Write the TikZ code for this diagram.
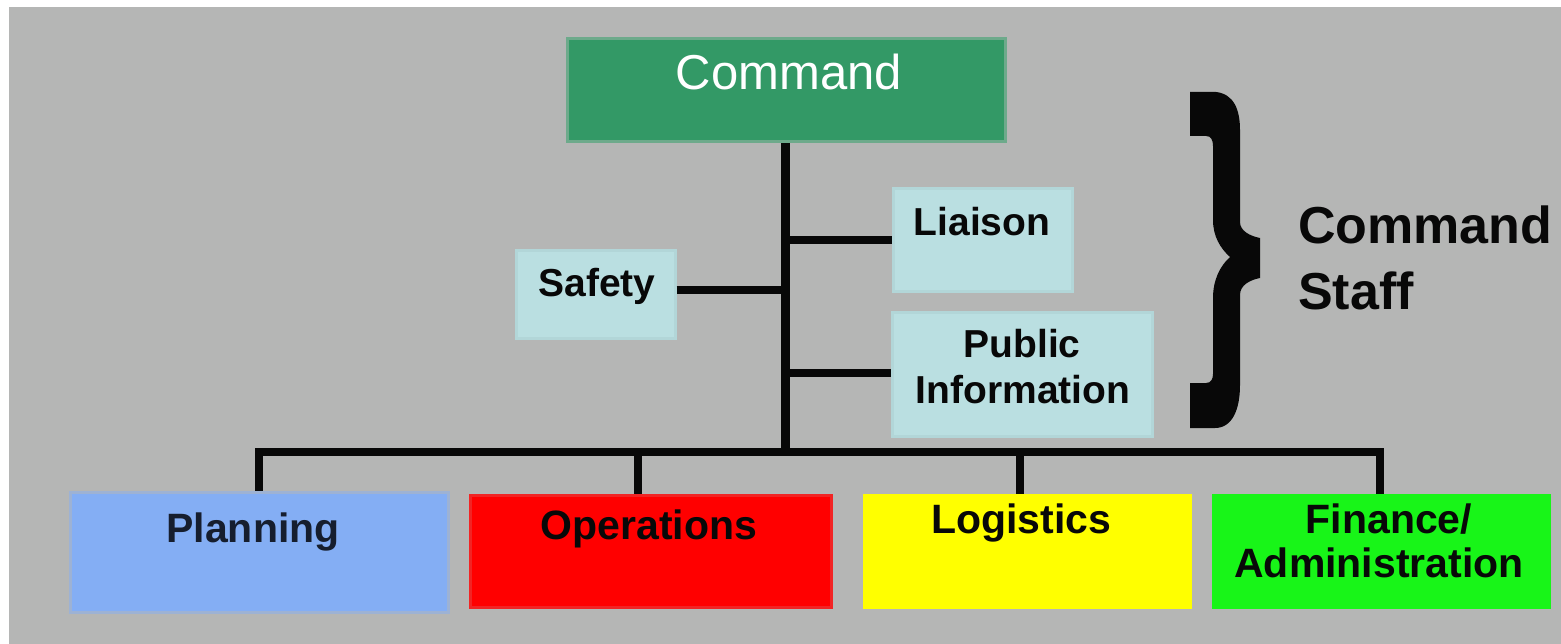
\documentclass[tikz,border=0pt]{standalone}
\usepackage{fontspec}
\setmainfont{Liberation Sans}
\usetikzlibrary{fit}
\definecolor{bg}{HTML}{B5B6B5}
\definecolor{cmdfill}{HTML}{339966}
\definecolor{cmdline}{HTML}{6DAA8B}
\definecolor{stafffill}{HTML}{BADFE1}
\definecolor{staffline}{HTML}{B2D6D8}
\definecolor{planfill}{HTML}{84AEF4}
\definecolor{planline}{HTML}{9DB2D4}
\definecolor{planink}{HTML}{161E2E}
\definecolor{opsfill}{HTML}{FF0000}
\definecolor{opsline}{HTML}{F22424}
\definecolor{logfill}{HTML}{FFFF00}
\definecolor{finfill}{HTML}{18F518}
\definecolor{ink}{HTML}{080808}
\begin{document}
\begin{tikzpicture}[x=1pt,y=-1pt,
  box/.style={inner sep=0pt, line width=3pt},
  conn/.style={draw=ink, line width=8.5pt},
  stafftxt/.style={inner sep=0pt, text=ink, font=\fontsize{39}{40}\selectfont\bfseries},
  sectxt/.style={inner sep=0pt, text=ink, font=\fontsize{41}{42}\selectfont\bfseries},
  bigtxt/.style={inner sep=0pt, text=ink, font=\fontsize{52}{53}\selectfont\bfseries}]
\useasboundingbox (0,0) rectangle (1561,644);
\fill[white] (0,0) rectangle (1561,644);
\fill[bg] (9,7) rectangle (1561,644);

% boxes
\node[box, fill=cmdfill, draw=cmdline, fit={(567,39) (1005,142)}] (command) {};
\node[box, fill=stafffill, draw=staffline, fit={(893,189) (1072,292)}] (liaison) {};
\node[box, fill=stafffill, draw=staffline, fit={(516,251) (675,339)}] (safety) {};
\node[box, fill=stafffill, draw=staffline, fit={(892,313) (1152,436)}] (public) {};
\node[box, fill=planfill, draw=planline, fit={(70,492) (448,612)}] (planning) {};
\node[box, fill=opsfill, draw=opsline, fit={(470,495) (831,607)}] (operations) {};
\node[box, fill=logfill, draw=logfill, fit={(864,495) (1190,607)}] (logistics) {};
\node[box, fill=finfill, draw=finfill, fit={(1213,495) (1549,607)}] (finance) {};

% texts
\node[inner sep=0pt, text=white, font=\fontsize{49}{50}\selectfont, anchor=base] (tcommand) at (789,90) {Command};
\node[stafftxt, anchor=base] (tliaison) at (982,236) {Liaison};
\node[stafftxt, anchor=base] (tsafety) at (597,297) {Safety};
\node[stafftxt, anchor=base] (tpublic) at (1022,357) {Public};
\node[stafftxt, anchor=base] (tinfo) at (1023,403) {Information};
\node[sectxt, anchor=base, text=planink] (tplanning) at (253,542) {Planning};
\node[sectxt, anchor=base] (toperations) at (649,539) {Operations};
\node[sectxt, anchor=base] (tlogistics) at (1021,533) {Logistics};
\node[sectxt, anchor=base] (tfinance) at (1389,533) {Finance/};
\node[sectxt, anchor=base] (tadmin) at (1379,577) {Administration};
\node[bigtxt, anchor=base west] (tcmd2) at (1298,244) {Command};
\node[bigtxt, anchor=base west] (tstaff) at (1298,309) {Staff};

% junction coordinates
\coordinate (jliaison) at (785.5,240);
\coordinate (jsafety) at (785.5,290);
\coordinate (jpublic) at (785.5,373);
\coordinate (jbus) at (785.5,452);
\coordinate (bplan) at (259,452);
\coordinate (bops) at (638,452);
\coordinate (blog) at (1020,452);
\coordinate (bfin) at (1380,452);

% connectors
\draw[conn] (command.south -| jbus) -- (jbus);
\draw[conn] (jliaison) -- (liaison.west |- jliaison);
\draw[conn] (safety.east |- jsafety) -- (jsafety);
\draw[conn] (jpublic) -- (public.west |- jpublic);
\draw[conn] (planning.north -| bplan) -- (bplan) -- (bfin) -- (finance.north -| bfin);
\draw[conn] (bops) -- (operations.north -| bops);
\draw[conn] (blog) -- (logistics.north -| blog);

% brace
\fill[ink] (1190,92) -- (1216,92) .. controls (1234,94) and (1240,110) .. (1240,130)
  -- (1240,222) .. controls (1240,231) and (1250,236) .. (1260,238)
  -- (1260,278) .. controls (1250,280) and (1240,285) .. (1240,295)
  -- (1240,385) .. controls (1240,410) and (1232,428) .. (1215,428)
  -- (1190,428) -- (1190,383) -- (1206,383)
  .. controls (1211,383) and (1213,379) .. (1213,374)
  -- (1213,298) .. controls (1213,280) and (1220,266) .. (1230,257)
  .. controls (1220,248) and (1213,236) .. (1213,220)
  -- (1213,146) .. controls (1213,140) and (1211,136) .. (1206,136)
  -- (1190,136) -- cycle;
\end{tikzpicture}
\end{document}
